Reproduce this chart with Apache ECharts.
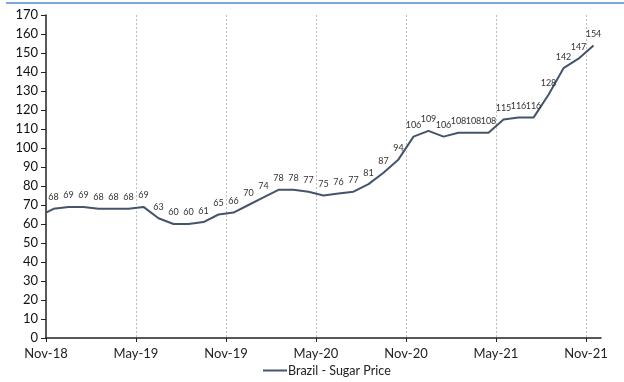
<!DOCTYPE html>
<html>
<head>
<meta charset="utf-8">
<script src="https://cdn.jsdelivr.net/npm/echarts@6/dist/echarts.min.js"></script>
<style>
  html, body { margin: 0; padding: 0; background: #fff; }
  #chart { width: 624px; height: 382px; }
</style>
</head>
<body>
<div id="chart"></div>
<script>
// Monthly Brazil sugar price, Nov-18 .. Nov-21
const months = ['Nov-18','Dec-18','Jan-19','Feb-19','Mar-19','Apr-19','May-19','Jun-19','Jul-19','Aug-19','Sep-19','Oct-19',
                'Nov-19','Dec-19','Jan-20','Feb-20','Mar-20','Apr-20','May-20','Jun-20','Jul-20','Aug-20','Sep-20','Oct-20',
                'Nov-20','Dec-20','Jan-21','Feb-21','Mar-21','Apr-21','May-21','Jun-21','Jul-21','Aug-21','Sep-21','Oct-21',
                'Nov-21'];
const sugarPrice = [68,69,69,68,68,68,69,63,60,60,61,65,
                    66,70,74,78,78,77,75,76,77,81,87,94,
                    106,109,106,108,108,108,115,116,116,128,142,147,
                    154];
// opening value at the start of the axis (unlabelled)
const openingPrice = 66;
const xTickLabels = ['Nov-18','May-19','Nov-19','May-20','Nov-20','May-21','Nov-21'];
const seriesName = 'Brazil - Sugar Price';

const FONT = 'Lato, "Open Sans", sans-serif';
const LINE_COLOR = '#44546A';

// x is measured in months from Nov-18; monthly readings sit mid-month
const points = [{ value: [0, openingPrice], label: { show: false } }]
  .concat(months.map((m, i) => ({ value: [i + 0.5, sugarPrice[i]] })));

const chart = echarts.init(document.getElementById('chart'), null, { renderer: 'canvas' });
chart.setOption({
  animation: false,
  backgroundColor: '#fff',
  textStyle: { fontFamily: FONT },
  graphic: [{
    type: 'line',
    shape: { x1: 6, y1: 3, x2: 624, y2: 3 },
    style: { stroke: '#7BA7DB', lineWidth: 2 }
  }],
  grid: { left: 46, right: 23, top: 15, bottom: 44 },
  legend: {
    bottom: 0,
    left: 258,
    itemWidth: 24,
    itemHeight: 2,
    itemGap: 0,
    textStyle: { fontSize: 12.5, color: '#222', fontFamily: FONT, padding: [0, 0, 0, -4] },
    data: [{ name: seriesName, icon: 'rect', itemStyle: { color: LINE_COLOR } }]
  },
  xAxis: {
    type: 'value',
    min: 0,
    max: 37,
    interval: 6,
    axisLine: { show: true, lineStyle: { color: '#222', width: 1.5 } },
    axisTick: { show: true, length: 4, lineStyle: { color: '#222' } },
    axisLabel: {
      fontSize: 13, color: '#222', margin: 9, fontFamily: FONT,
      showMaxLabel: false,
      formatter: v => (v % 6 === 0 ? xTickLabels[v / 6] : '')
    },
    splitLine: { show: true, showMinLine: false, showMaxLine: false,
                 lineStyle: { color: '#bdbdbd', type: [2, 2], width: 1 } }
  },
  yAxis: {
    type: 'value',
    min: 0,
    max: 170,
    interval: 10,
    axisLine: { show: true, lineStyle: { color: '#222', width: 1.5 } },
    axisTick: { show: true, length: 5, lineStyle: { color: '#222' } },
    axisLabel: { fontSize: 13, color: '#111', margin: 8, fontFamily: FONT },
    splitLine: { show: false }
  },
  series: [{
    name: seriesName,
    type: 'line',
    data: points,
    symbol: 'circle',
    symbolSize: 0,
    showSymbol: true,
    lineStyle: { color: LINE_COLOR, width: 2 },
    itemStyle: { color: LINE_COLOR },
    label: {
      show: true,
      position: 'top',
      distance: 7,
      fontSize: 9,
      color: '#333',
      fontFamily: FONT,
      formatter: p => p.value[1]
    },
    labelLayout: { hideOverlap: false }
  }]
});
</script>
</body>
</html>
